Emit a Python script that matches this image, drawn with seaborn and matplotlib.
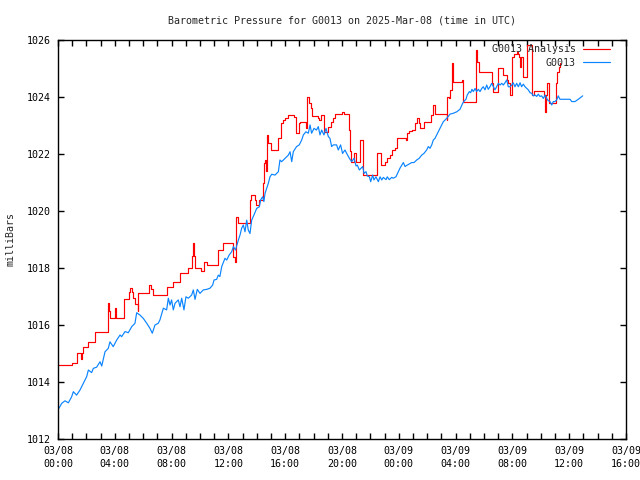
import matplotlib
matplotlib.use("Agg")
import matplotlib.pyplot as plt
import seaborn as sns
import pandas as pd
from matplotlib.ticker import MultipleLocator

# ---------------- data (hours since 2025-03-08 00:00 UTC) ----------------
g0013_hours = [
    0.0, 0.07, 0.26, 0.49, 0.73, 0.96, 1.08, 1.31, 1.55, 1.78, 2.02, 2.14, 2.37, 2.49, 2.72,
    2.96, 3.08, 3.31, 3.54, 3.66, 3.89, 4.13, 4.37, 4.48, 4.72, 4.95, 5.19, 5.42, 5.54, 5.77,
    6.01, 6.25, 6.48, 6.64, 6.83, 7.06, 7.18, 7.42, 7.65, 7.77, 7.89, 8.0, 8.12, 8.24, 8.47,
    8.59, 8.71, 8.87, 9.01, 9.18, 9.41, 9.53, 9.65, 9.81, 10.0, 10.23, 10.47, 10.7, 10.89,
    10.99, 11.17, 11.29, 11.4, 11.53, 11.76, 11.88, 12.06, 12.23, 12.35, 12.5, 12.7, 12.82,
    12.93, 13.05, 13.17, 13.29, 13.4, 13.52, 13.64, 13.8, 13.99, 14.18, 14.27, 14.41, 14.5,
    14.58, 14.81, 14.93, 15.05, 15.28, 15.52, 15.63, 15.75, 15.87, 16.06, 16.22, 16.34,
    16.46, 16.57, 16.8, 16.99, 17.16, 17.28, 17.46, 17.63, 17.75, 17.86, 18.03, 18.2, 18.33,
    18.45, 18.57, 18.73, 18.87, 19.04, 19.15, 19.27, 19.39, 19.62, 19.74, 19.9, 20.04,
    20.21, 20.33, 20.52, 20.68, 20.85, 20.99, 21.08, 21.22, 21.46, 21.55, 21.69, 21.78,
    21.93, 22.02, 22.16, 22.25, 22.39, 22.56, 22.68, 22.8, 22.91, 23.1, 23.19, 23.33, 23.5,
    23.61, 23.8, 23.97, 24.08, 24.32, 24.44, 24.56, 24.74, 24.91, 25.07, 25.26, 25.44,
    25.61, 25.77, 25.96, 26.08, 26.2, 26.32, 26.43, 26.55, 26.67, 26.78, 26.9, 27.02, 27.13,
    27.37, 27.61, 27.84, 28.08, 28.31, 28.5, 28.59, 28.73, 28.82, 28.97, 29.06, 29.15,
    29.25, 29.37, 29.48, 29.6, 29.72, 29.84, 29.95, 30.07, 30.19, 30.3, 30.42, 30.54, 30.66,
    30.77, 30.89, 31.01, 31.13, 31.25, 31.36, 31.48, 31.6, 31.71, 31.83, 31.95, 32.06,
    32.18, 32.3, 32.42, 32.54, 32.65, 32.77, 32.89, 33.01, 33.12, 33.24, 33.36, 33.47,
    33.59, 33.71, 33.82, 33.94, 34.06, 34.18, 34.3, 34.41, 34.53, 34.65, 34.77, 34.88,
    35.0, 35.12, 35.23, 35.35, 36.06, 36.18, 36.41, 36.64, 36.95,
]
g0013_mb = [
    1013.05, 1013.08, 1013.25, 1013.34, 1013.27, 1013.48, 1013.66, 1013.54, 1013.72, 1013.95,
    1014.19, 1014.42, 1014.33, 1014.48, 1014.52, 1014.71, 1014.56, 1015.06, 1015.18, 1015.41,
    1015.24, 1015.47, 1015.65, 1015.59, 1015.77, 1015.73, 1015.94, 1016.06, 1016.43, 1016.35,
    1016.23, 1016.06, 1015.88, 1015.71, 1016.00, 1016.06, 1016.18, 1016.59, 1016.53, 1016.94,
    1016.70, 1016.88, 1016.53, 1016.76, 1016.88, 1016.64, 1016.94, 1016.53, 1016.99, 1016.94,
    1017.05, 1017.23, 1016.90, 1017.25, 1017.11, 1017.23, 1017.25, 1017.29, 1017.40, 1017.58,
    1017.60, 1017.75, 1017.70, 1018.05, 1018.34, 1018.28, 1018.46, 1018.57, 1018.75, 1018.63,
    1018.98, 1019.16, 1019.39, 1019.51, 1019.27, 1019.68, 1019.33, 1019.21, 1019.68, 1019.86,
    1020.09, 1020.15, 1020.39, 1020.50, 1020.33, 1020.62, 1020.97, 1021.20, 1021.29, 1021.26,
    1021.38, 1021.79, 1021.73, 1021.79, 1021.88, 1021.96, 1022.08, 1021.73, 1022.08, 1022.26,
    1022.32, 1022.49, 1022.67, 1022.78, 1022.73, 1023.02, 1022.73, 1022.90, 1022.84, 1022.96,
    1022.67, 1022.84, 1022.67, 1022.90, 1022.61, 1022.55, 1022.26, 1022.32, 1022.32, 1022.14,
    1022.32, 1022.02, 1022.14, 1022.02, 1021.85, 1021.73, 1021.85, 1021.58, 1021.61, 1021.44,
    1021.56, 1021.32, 1021.38, 1021.23, 1021.20, 1021.03, 1021.26, 1021.09, 1021.20, 1021.03,
    1021.20, 1021.09, 1021.18, 1021.10, 1021.20, 1021.10, 1021.18, 1021.15, 1021.20, 1021.38,
    1021.50, 1021.70, 1021.56, 1021.60, 1021.65, 1021.70, 1021.70, 1021.79, 1021.85, 1021.96,
    1022.02, 1022.14, 1022.26, 1022.20, 1022.32, 1022.49, 1022.55, 1022.67, 1022.78, 1022.90,
    1023.02, 1023.13, 1023.25, 1023.40, 1023.43, 1023.48, 1023.57, 1023.78, 1023.85, 1023.92,
    1024.07, 1024.19, 1024.15, 1024.27, 1024.19, 1024.30, 1024.19, 1024.27, 1024.19, 1024.30,
    1024.36, 1024.25, 1024.42, 1024.27, 1024.36, 1024.48, 1024.36, 1024.25, 1024.36, 1024.48,
    1024.42, 1024.48, 1024.42, 1024.50, 1024.60, 1024.36, 1024.36, 1024.42, 1024.50, 1024.36,
    1024.48, 1024.36, 1024.50, 1024.36, 1024.45, 1024.36, 1024.30, 1024.25, 1024.15, 1024.13,
    1024.04, 1024.07, 1024.02, 1024.10, 1024.02, 1024.04, 1023.95, 1024.07, 1023.95, 1023.87,
    1023.84, 1023.72, 1023.84, 1023.84, 1023.90, 1024.04, 1023.92, 1023.92, 1023.84, 1023.84,
    1023.92, 1024.04,
]

analysis_hours = [
    0.0, 0.96, 1.31, 1.62, 1.71, 1.78, 2.14, 2.60, 3.50, 3.55, 3.62, 3.68, 4.01, 4.08, 4.65,
    5.00, 5.07, 5.19, 5.31, 5.42, 5.61, 5.66, 6.43, 6.55, 6.67, 7.65, 8.12, 8.59, 9.18, 9.41,
    9.48, 9.58, 9.65, 10.10, 10.30, 10.50, 11.29, 11.60, 12.35, 12.45, 12.55, 12.65, 13.55,
    13.59, 13.87, 13.94, 14.18, 14.46, 14.50, 14.58, 14.64, 14.70, 14.81, 14.98, 15.52,
    15.68, 15.82, 15.99, 16.22, 16.64, 16.76, 16.99, 17.06, 17.46, 17.55, 17.67, 17.79,
    17.91, 18.28, 18.40, 18.52, 18.76, 18.99, 19.23, 19.39, 19.53, 20.00, 20.12, 20.49,
    20.56, 20.63, 20.85, 21.00, 21.30, 21.45, 21.50, 22.44, 22.73, 23.00, 23.20, 23.40,
    23.55, 23.70, 23.90, 24.48, 24.60, 24.75, 24.90, 25.17, 25.30, 25.40, 25.50, 25.78,
    26.30, 26.40, 26.55, 27.37, 27.42, 27.50, 27.60, 27.72, 27.79, 27.84, 28.43, 28.54,
    29.44, 29.53, 29.67, 30.54, 30.61, 31.01, 31.36, 31.60, 31.71, 31.83, 31.95, 32.10,
    32.30, 32.37, 32.44, 32.54, 32.58, 32.77, 33.01, 33.36, 33.50, 34.23, 34.30, 34.37,
    34.41, 34.55, 35.07, 35.16, 35.26, 35.35,
]
analysis_mb = [
    1014.58, 1014.66, 1015.03, 1014.82, 1015.03, 1015.24, 1015.41, 1015.77, 1016.00, 1016.77,
    1016.50, 1016.23, 1016.58, 1016.23, 1016.91, 1017.17, 1017.30, 1017.17, 1016.95, 1016.74,
    1016.50, 1017.11, 1017.40, 1017.25, 1017.05, 1017.35, 1017.52, 1017.84, 1017.99, 1018.42,
    1018.87, 1018.42, 1017.99, 1017.90, 1018.22, 1018.10, 1018.63, 1018.87, 1018.40, 1018.20,
    1019.80, 1019.57, 1020.39, 1020.56, 1020.39, 1020.21, 1020.39, 1020.97, 1021.67, 1021.79,
    1021.40, 1022.67, 1022.40, 1022.14, 1022.55, 1023.08, 1023.19, 1023.25, 1023.37, 1023.31,
    1022.73, 1023.08, 1023.13, 1022.90, 1024.01, 1023.78, 1023.60, 1023.33, 1023.25, 1023.19,
    1023.37, 1022.78, 1022.96, 1023.13, 1023.25, 1023.39, 1023.46, 1023.39, 1022.84, 1022.10,
    1021.73, 1022.05, 1021.73, 1022.49, 1021.73, 1021.26, 1022.02, 1021.61, 1021.73, 1021.85,
    1021.96, 1022.14, 1022.20, 1022.55, 1022.50, 1022.73, 1022.80, 1022.84, 1023.08, 1023.25,
    1023.08, 1022.90, 1023.13, 1023.37, 1023.72, 1023.40, 1023.19, 1024.01, 1023.95, 1024.25,
    1025.18, 1024.95, 1024.54, 1024.60, 1023.84, 1025.65, 1025.24, 1024.87, 1024.48, 1024.19,
    1025.00, 1024.77, 1024.60, 1024.48, 1024.07, 1025.42, 1025.50, 1025.59, 1025.50, 1025.41,
    1025.06, 1025.42, 1024.71, 1025.82, 1024.07, 1024.20, 1024.07, 1023.48, 1024.07, 1024.48,
    1023.78, 1024.48, 1024.89, 1025.06, 1025.18,
]

tick_hours = [0, 4, 8, 12, 16, 20, 24, 28, 32, 36, 40]
tick_labels = ["03/08\n00:00", "03/08\n04:00", "03/08\n08:00", "03/08\n12:00",
               "03/08\n16:00", "03/08\n20:00", "03/09\n00:00", "03/09\n04:00",
               "03/09\n08:00", "03/09\n12:00", "03/09\n16:00"]
y_ticks = [1012, 1014, 1016, 1018, 1020, 1022, 1024, 1026]

title = "Barometric Pressure for G0013 on 2025-Mar-08 (time in UTC)"

# ---------------- plot ----------------
sns.set_style("ticks")
plt.rcParams["font.family"] = ["DejaVu Sans Mono"]

df_obs = pd.DataFrame({"hours": g0013_hours, "mb": g0013_mb})
df_ana = pd.DataFrame({"hours": analysis_hours, "mb": analysis_mb})

fig = plt.figure(figsize=(6.4, 4.8), dpi=100)
ax = fig.add_axes([58 / 640, 41 / 480, 568 / 640, 399 / 480])

sns.lineplot(data=df_ana, x="hours", y="mb", ax=ax, color="#ff0000", linewidth=0.85,
             drawstyle="steps-post", estimator=None, label="G0013 Analysis")
sns.lineplot(data=df_obs, x="hours", y="mb", ax=ax, color="#0a84ff", linewidth=0.85,
             estimator=None, label="G0013")

ax.set_xlim(0, 40)
ax.set_ylim(1012, 1026)
ax.set_xticks(tick_hours)
ax.set_xticklabels(tick_labels, linespacing=1.4)
ax.xaxis.set_minor_locator(MultipleLocator(1))
ax.set_yticks(y_ticks)
ax.tick_params(which="both", direction="in", top=True, right=True, length=4,
               width=1, colors="black", labelsize=7.2, pad=5)
for s in ax.spines.values():
    s.set_linewidth(1)
    s.set_color("black")

ax.set_xlabel("")
ax.set_ylabel("milliBars", fontsize=7.2)
ax.yaxis.set_label_coords(-42 / 568, 0.5)
ax.set_title(title, fontsize=7.2, pad=12)

leg = ax.legend(loc="upper right", bbox_to_anchor=(1 - 16 / 568, 1 - 4.5 / 399),
                frameon=False, markerfirst=False, handlelength=2.7,
                handletextpad=0.75, labelspacing=0.35, borderpad=0,
                borderaxespad=0, fontsize=7.2)

fig.savefig("out.png", dpi=100)
